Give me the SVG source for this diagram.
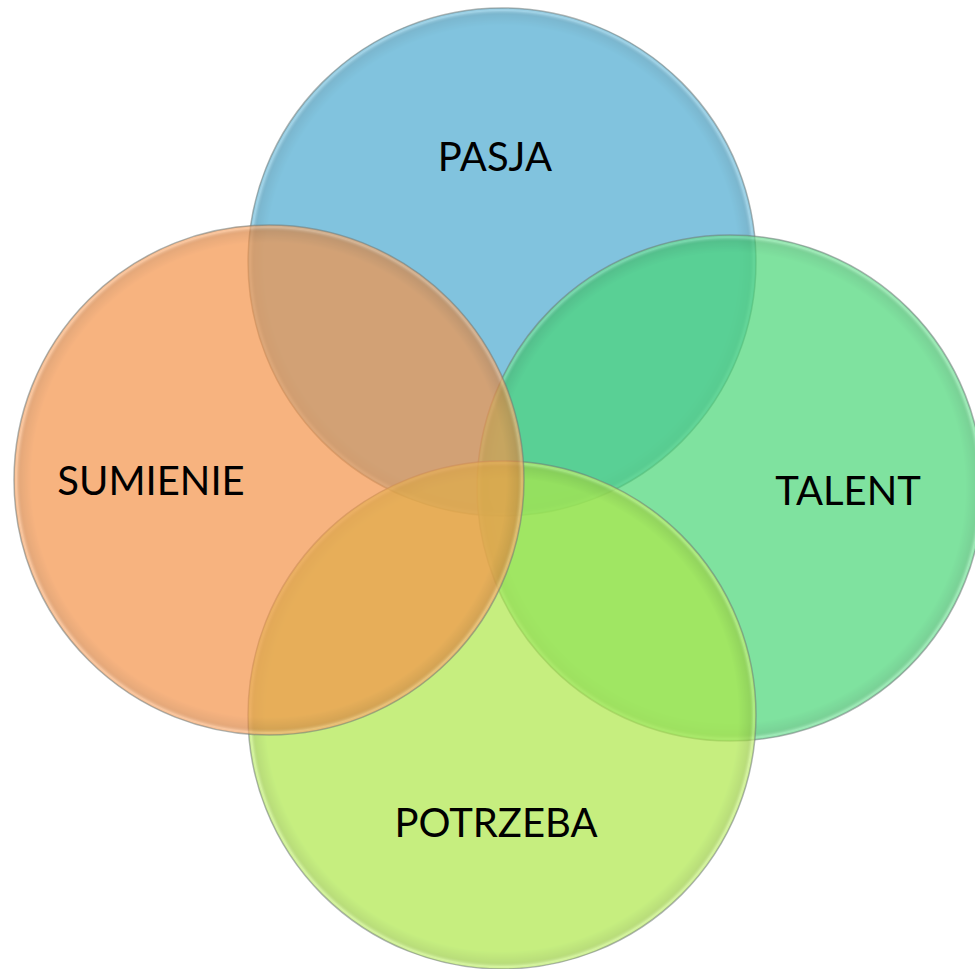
<svg xmlns="http://www.w3.org/2000/svg" width="975" height="969" viewBox="0 0 975 969">
<defs>
<style>
.lbl{font-family:Lato,"Liberation Sans",sans-serif;font-size:40px;fill:#000;text-anchor:middle}
.fillc{opacity:0.7}
.rim{fill:url(#bevel)}
.edge{fill:none;stroke:#6f7a78;stroke-opacity:0.55;stroke-width:1.5}
</style>
<radialGradient id="bevel" cx="0.5" cy="0.5" r="0.5">
<stop offset="0" stop-color="#000" stop-opacity="0"/>
<stop offset="0.93" stop-color="#000" stop-opacity="0"/>
<stop offset="0.975" stop-color="#000" stop-opacity="0.10"/>
<stop offset="0.99" stop-color="#fff" stop-opacity="0.25"/>
<stop offset="1" stop-color="#fff" stop-opacity="0.15"/>
</radialGradient>
</defs>
<rect width="975" height="969" fill="#fff"/>
<g id="connectors"></g>
<g id="pasja">
<g class="fillc"><circle cx="502" cy="262" r="254" fill="#4cabd1"/><circle class="rim" cx="502" cy="262" r="254"/></g>
<circle class="edge" cx="502" cy="262" r="254"/>
<text class="lbl" x="495" y="171">PASJA</text>
</g>
<g id="talent">
<g class="fillc"><circle cx="730" cy="488" r="253" fill="#49d677"/><circle class="rim" cx="730" cy="488" r="253"/></g>
<circle class="edge" cx="730" cy="488" r="253"/>
<text class="lbl" x="848" y="505">TALENT</text>
</g>
<g id="potrzeba">
<g class="fillc"><circle cx="502" cy="715" r="254" fill="#aee84a"/><circle class="rim" cx="502" cy="715" r="254"/></g>
<circle class="edge" cx="502" cy="715" r="254"/>
<text class="lbl" x="496" y="837">POTRZEBA</text>
</g>
<g id="sumienie">
<g class="fillc"><circle cx="269" cy="480" r="255" fill="#f5944a"/><circle class="rim" cx="269" cy="480" r="255"/></g>
<circle class="edge" cx="269" cy="480" r="255"/>
<text class="lbl" x="151" y="495">SUMIENIE</text>
</g>
</svg>
